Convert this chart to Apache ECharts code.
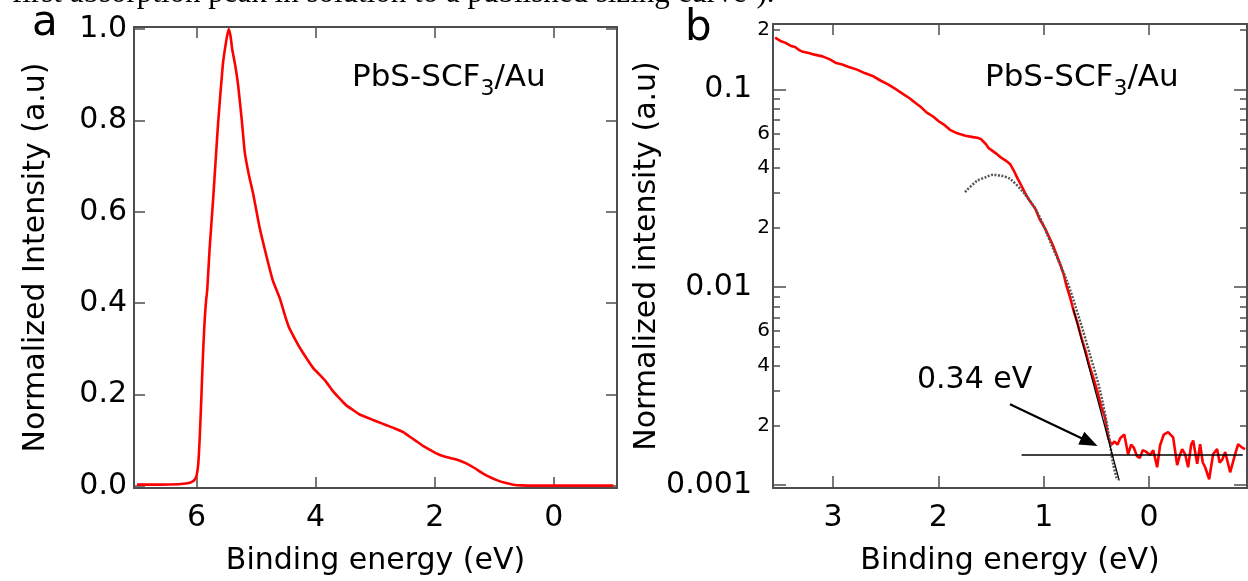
<!DOCTYPE html>
<html>
<head>
<meta charset="utf-8">
<script src="https://cdn.jsdelivr.net/npm/echarts@6/dist/echarts.min.js"></script>
<style>
  html, body { margin: 0; padding: 0; background: #fff; }
  #chart { width: 1248px; height: 581px; }
</style>
</head>
<body>
<div id="chart"></div>
<script>
// panel a - full spectrum (linear)
const energyA = [7.0, 6.6, 6.3, 6.15, 6.08, 6.03, 6.0, 5.97, 5.945, 5.92, 5.9, 5.88, 5.86, 5.84, 5.82, 5.78,
  5.72, 5.64, 5.56, 5.5, 5.46, 5.43, 5.40, 5.35, 5.30, 5.24, 5.19, 5.12, 5.05, 4.94, 4.82, 4.72, 4.60, 4.52,
  4.45, 4.34, 4.24, 4.14, 4.04, 3.93, 3.83, 3.73, 3.63, 3.55, 3.49, 3.38, 3.28, 3.18, 3.08, 2.95, 2.81, 2.67,
  2.53, 2.43, 2.33, 2.2, 2.05, 1.95, 1.85, 1.73, 1.61, 1.48, 1.34, 1.22, 1.10, 0.96, 0.82, 0.68, 0.55, 0.3,
  0.0, -0.5, -1.0];
const intensityA = [0.003, 0.003, 0.004, 0.006, 0.009, 0.014, 0.022, 0.05, 0.11, 0.19, 0.26, 0.32, 0.37, 0.405, 0.43, 0.52,
  0.63, 0.79, 0.92, 0.975, 1.0, 0.985, 0.955, 0.92, 0.875, 0.80, 0.73, 0.68, 0.64, 0.565, 0.50, 0.45, 0.41, 0.375,
  0.348, 0.32, 0.297, 0.277, 0.258, 0.243, 0.229, 0.211, 0.196, 0.185, 0.177, 0.167, 0.158, 0.152, 0.147, 0.14, 0.133, 0.126,
  0.118, 0.109, 0.100, 0.088, 0.077, 0.07, 0.065, 0.061, 0.057, 0.05, 0.040, 0.03, 0.021, 0.013, 0.007, 0.003, 0.0015, 0.001,
  0.001, 0.001, 0.001];

// panel b - onset region (log)
const energyB = [3.55, 3.50, 3.45, 3.40, 3.36, 3.32, 3.287, 3.23, 3.176, 3.10,
  3.03, 2.97, 2.92, 2.85, 2.772, 2.70, 2.625, 2.55, 2.478, 2.40,
  2.33, 2.27, 2.22, 2.16, 2.11, 2.05, 2.0, 1.94, 1.89, 1.82,
  1.743, 1.67, 1.62, 1.596, 1.55, 1.522, 1.46, 1.412, 1.36, 1.32,
  1.28, 1.246, 1.21, 1.173, 1.13, 1.081, 1.04, 0.989, 0.95, 0.915,
  0.88, 0.842, 0.81, 0.787, 0.75, 0.713, 0.68, 0.64, 0.60, 0.566,
  0.53, 0.493, 0.455, 0.419, 0.40, 0.382, 0.355, 0.327, 0.30, 0.272,
  0.235, 0.199, 0.17, 0.143, 0.115, 0.088, 0.06, 0.033, -0.01, -0.04,
  -0.077, -0.105, -0.14, -0.181, -0.229, -0.267, -0.29, -0.314, -0.343, -0.371,
  -0.40, -0.419, -0.457, -0.485, -0.51, -0.533, -0.571, -0.608, -0.646, -0.67,
  -0.694, -0.723, -0.77, -0.817, -0.846, -0.88, -0.912];
const intensityB = [0.183, 0.176, 0.172, 0.166, 0.164, 0.158, 0.155, 0.153, 0.150, 0.147,
  0.142, 0.136, 0.134, 0.130, 0.126, 0.121, 0.117, 0.111, 0.106, 0.100,
  0.0944, 0.090, 0.0857, 0.081, 0.0764, 0.073, 0.0693, 0.066, 0.0625, 0.060,
  0.0584, 0.0574, 0.0568, 0.0561, 0.0530, 0.0505, 0.0478, 0.0455, 0.0437, 0.0420,
  0.0385, 0.0353, 0.0325, 0.0297, 0.0272, 0.0250, 0.0222, 0.0199, 0.0180, 0.0164,
  0.0147, 0.0130, 0.0116, 0.0103, 0.0089, 0.0075, 0.0066, 0.0055, 0.0047, 0.0040,
  0.0035, 0.0030, 0.0025, 0.0022, 0.0019, 0.0017, 0.0016, 0.00166, 0.00160, 0.00173,
  0.0018, 0.00143, 0.0016, 0.00154, 0.0014, 0.00137, 0.0015, 0.00148, 0.00142, 0.0015,
  0.00123, 0.00159, 0.0018, 0.00185, 0.00174, 0.00126, 0.0014, 0.00152, 0.00143, 0.00123,
  0.0016, 0.00168, 0.00128, 0.00161, 0.0013, 0.00123, 0.00107, 0.00143, 0.00152, 0.0013,
  0.00134, 0.00147, 0.00116, 0.00143, 0.00161, 0.00155, 0.00152];

const fitEnergy = [1.747, 1.633, 1.55, 1.481, 1.40, 1.32, 1.196, 1.063, 0.911, 0.778, 0.655, 0.56, 0.465, 0.389, 0.341, 0.303];
const fitIntensity = [0.0303, 0.0345, 0.0360, 0.0370, 0.0366, 0.0353, 0.0303, 0.0241, 0.0157, 0.0107, 0.00675, 0.00455, 0.0030, 0.00189, 0.00128, 0.00106];
const tangentEnergy = [0.72, 0.283];
const tangentIntensity = [0.00783, 0.001054];
const floorEnergy = [1.21, -0.89];
const floorIntensity = [0.00142, 0.00142];
const arrowEnergy = [1.32, 0.566];
const arrowIntensity = [0.00256, 0.00165];

const xTicksA = [6, 4, 2, 0];
const yTicksA = [0, 0.2, 0.4, 0.6, 0.8, 1.0];
const xTicksB = [3, 2, 1, 0];
const majorB = [0.001, 0.01, 0.1];
const minorB = [0.001, 0.002, 0.003, 0.004, 0.005, 0.006, 0.007, 0.008, 0.009,
  0.01, 0.02, 0.03, 0.04, 0.05, 0.06, 0.07, 0.08, 0.09, 0.1, 0.2];
const labelsB = [0.001, 0.002, 0.004, 0.006, 0.01, 0.02, 0.04, 0.06, 0.1, 0.2];

const FONT = 'DejaVu Sans';
const AXIS = '#4d4d4d';
const lg = v => Math.log10(v);
const pairs = (xs, ys, f) => xs.map((x, i) => [x, f ? f(ys[i]) : ys[i]]);

const chart = echarts.init(document.getElementById('chart'));

const line = {onZero: false, lineStyle: {color: AXIS, width: 2}};
const tickStyle = {color: AXIS, width: 1.5};
const txt = {fontFamily: FONT, fontSize: 30, color: '#000'};

function sideAxis(grid, pos, min, max, ticks, len, inverse, showLine) {
  return {
    type: 'value', gridIndex: grid, position: pos, min: min, max: max, inverse: !!inverse,
    axisLine: Object.assign({show: showLine !== false}, line),
    axisTick: {inside: true, length: len, customValues: ticks, lineStyle: tickStyle},
    axisLabel: {show: false},
    splitLine: {show: false}
  };
}

const yMinB = -3.015, yMaxB = -0.669;

const option = {
  animation: false,
  grid: [
    {left: 134, top: 27, width: 483, height: 465},
    {left: 773, top: 24, width: 474, height: 467}
  ],
  xAxis: [
    {
      type: 'value', gridIndex: 0, position: 'bottom', min: -1.06, max: 7.05, inverse: true,
      axisLine: line,
      axisTick: {inside: true, length: 11, customValues: xTicksA, lineStyle: tickStyle},
      axisLabel: Object.assign({customValues: xTicksA, margin: 15}, txt),
      splitLine: {show: false},
      name: 'Binding energy (eV)', nameLocation: 'middle', nameGap: 58, nameTextStyle: txt
    },
    sideAxis(0, 'top', -1.06, 7.05, xTicksA, 11, true),
    {
      type: 'value', gridIndex: 1, position: 'bottom', min: -0.93, max: 3.57, inverse: true,
      axisLine: line,
      axisTick: {inside: true, length: 12, customValues: xTicksB, lineStyle: tickStyle},
      axisLabel: Object.assign({customValues: xTicksB, margin: 15}, txt),
      splitLine: {show: false},
      name: 'Binding energy (eV)', nameLocation: 'middle', nameGap: 58, nameTextStyle: txt
    },
    sideAxis(1, 'top', -0.93, 3.57, xTicksB, 11, true)
  ],
  yAxis: [
    {
      type: 'value', gridIndex: 0, position: 'left', min: -0.0043, max: 1.0043,
      axisLine: line,
      axisTick: {inside: true, length: 11, customValues: yTicksA, lineStyle: tickStyle},
      axisLabel: Object.assign({customValues: yTicksA, margin: 7, formatter: v => v.toFixed(1)}, txt),
      splitLine: {show: false},
      name: 'Normalized Intensity (a.u)', nameLocation: 'middle', nameGap: 83, nameTextStyle: txt
    },
    sideAxis(0, 'right', -0.0043, 1.0043, yTicksA, 11),
    {
      type: 'value', gridIndex: 1, position: 'left', min: yMinB, max: yMaxB,
      axisLine: line,
      axisTick: {inside: true, length: 7, customValues: minorB.map(lg), lineStyle: tickStyle},
      axisLabel: {
        customValues: labelsB.map(lg), margin: 3,
        formatter: function (v) {
          const p = Math.floor(v + 1e-6);
          const m = Math.round(Math.pow(10, v - p));
          if (m === 1) return '{maj|' + Math.pow(10, p).toFixed(-p) + '}';
          return '{mn|' + m + '}';
        },
        rich: {
          maj: {fontFamily: FONT, fontSize: 30, color: '#000', padding: [0, 18, 0, 0]},
          mn: {fontFamily: FONT, fontSize: 20, color: '#000'}
        }
      },
      splitLine: {show: false},
      name: 'Normalized intensity (a.u)', nameLocation: 'middle', nameGap: 95, nameTextStyle: txt
    },
    sideAxis(1, 'left', yMinB, yMaxB, majorB.map(lg), 13, false, false),
    sideAxis(1, 'right', yMinB, yMaxB, minorB.map(lg), 7),
    sideAxis(1, 'right', yMinB, yMaxB, majorB.map(lg), 13, false, false)
  ],
  series: [
    {
      type: 'line', xAxisIndex: 0, yAxisIndex: 0, showSymbol: false, smooth: 0.15,
      data: pairs(energyA, intensityA),
      lineStyle: {color: '#ff0000', width: 2.6}
    },
    {
      type: 'line', xAxisIndex: 2, yAxisIndex: 2, showSymbol: false,
      data: pairs(energyB, intensityB, lg),
      lineStyle: {color: '#ff0000', width: 2.6}
    },
    {
      type: 'line', xAxisIndex: 2, yAxisIndex: 2, showSymbol: false, smooth: 0.3,
      data: pairs(fitEnergy, fitIntensity, lg),
      lineStyle: {color: '#555', width: 2.5, type: [2, 1.5]}
    },
    {
      type: 'line', xAxisIndex: 2, yAxisIndex: 2, showSymbol: false,
      data: pairs(tangentEnergy, tangentIntensity, lg),
      lineStyle: {color: '#000', width: 1.2}
    },
    {
      type: 'line', xAxisIndex: 2, yAxisIndex: 2, showSymbol: false,
      data: pairs(floorEnergy, floorIntensity, lg),
      lineStyle: {color: '#000', width: 1.5},
      markLine: {
        silent: true, symbol: ['none', 'triangle'], symbolSize: [14, 18],
        label: {show: false},
        lineStyle: {color: '#000', width: 2.2, type: 'solid'},
        data: [[
          {coord: [arrowEnergy[0], lg(arrowIntensity[0])]},
          {coord: [arrowEnergy[1], lg(arrowIntensity[1])]}
        ]]
      }
    }
  ],
  graphic: [
    {
      type: 'text', x: 12, y: -6,
      style: {
        text: '{t|first absorption peak in solution to a published sizing curve}{sp|5}{t|).}',
        align: 'left', verticalAlign: 'middle',
        rich: {
          t: {fontFamily: 'Liberation Serif', fontSize: 31, fill: '#000'},
          sp: {fontFamily: 'Liberation Serif', fontSize: 20, fill: '#000', verticalAlign: 'top'}
        }
      }
    },
    {type: 'text', x: 32, y: 24, style: {text: 'a', font: '42px "DejaVu Sans"', fill: '#000', align: 'left', verticalAlign: 'middle'}},
    {type: 'text', x: 685, y: 29, style: {text: 'b', font: '42px "DejaVu Sans"', fill: '#000', align: 'left', verticalAlign: 'middle'}},
    {
      type: 'text', x: 352, y: 56,
      style: {
        text: '{n|PbS-SCF}{s|3}{n|/Au}', align: 'left', verticalAlign: 'top',
        rich: {
          n: {fontFamily: FONT, fontSize: 31, fill: '#000', lineHeight: 44, verticalAlign: 'middle'},
          s: {fontFamily: FONT, fontSize: 22, fill: '#000', lineHeight: 22, verticalAlign: 'bottom'}
        }
      }
    },
    {
      type: 'text', x: 985, y: 56,
      style: {
        text: '{n|PbS-SCF}{s|3}{n|/Au}', align: 'left', verticalAlign: 'top',
        rich: {
          n: {fontFamily: FONT, fontSize: 31, fill: '#000', lineHeight: 44, verticalAlign: 'middle'},
          s: {fontFamily: FONT, fontSize: 22, fill: '#000', lineHeight: 22, verticalAlign: 'bottom'}
        }
      }
    },
    {type: 'text', x: 917, y: 380, style: {text: '0.34 eV', font: '30px "DejaVu Sans"', fill: '#000', align: 'left', verticalAlign: 'middle'}}
  ]
};

chart.setOption(option);
</script>
</body>
</html>
